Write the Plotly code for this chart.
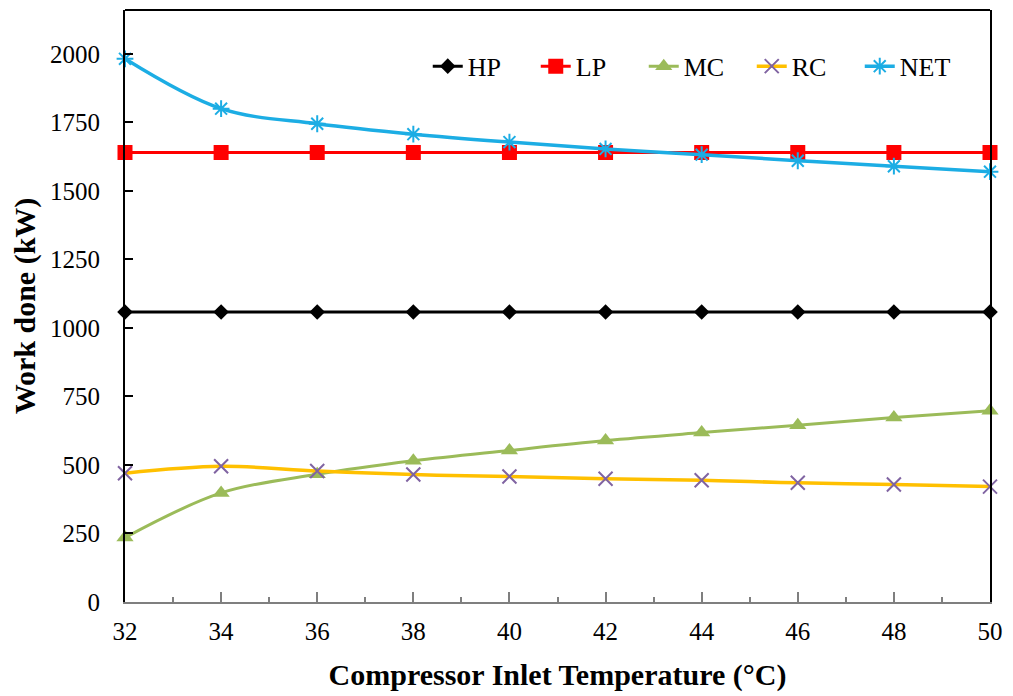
import plotly.graph_objects as go

temps = [32, 34, 36, 38, 40, 42, 44, 46, 48, 50]
hp = [1058, 1058, 1058, 1058, 1058, 1058, 1058, 1058, 1058, 1058]
lp = [1640, 1640, 1640, 1640, 1640, 1640, 1640, 1640, 1640, 1640]
mc = [235, 398, 466, 515, 553, 589, 618, 645, 673, 698]
rc = [470, 495, 478, 465, 458, 450, 444, 435, 429, 421]
net = [1982, 1800, 1745, 1707, 1678, 1653, 1632, 1610, 1590, 1570]

FONT = "Liberation Serif"

fig = go.Figure()
fig.add_trace(go.Scatter(x=temps, y=hp, name="HP", mode="lines+markers",
                         line=dict(color="black", width=3, shape="spline"),
                         marker=dict(symbol="diamond", size=12, color="black"),
                         cliponaxis=False))
fig.add_trace(go.Scatter(x=temps, y=lp, name="LP", mode="lines+markers",
                         line=dict(color="#FF0000", width=3, shape="spline"),
                         marker=dict(symbol="square", size=15, color="#FF0000"),
                         cliponaxis=False))
fig.add_trace(go.Scatter(x=temps, y=mc, name="MC", mode="lines+markers",
                         line=dict(color="#9BBB59", width=3, shape="spline"),
                         marker=dict(symbol="triangle-up", size=15, color="#9BBB59"),
                         cliponaxis=False))
fig.add_trace(go.Scatter(x=temps, y=rc, name="RC", mode="lines+markers",
                         line=dict(color="#FFC000", width=3.5, shape="spline"),
                         marker=dict(symbol="x-thin-open", size=14, color="#8064A2",
                                     line=dict(color="#8064A2", width=2)),
                         cliponaxis=False))
fig.add_trace(go.Scatter(x=temps, y=net, name="NET", mode="lines+markers",
                         line=dict(color="#1CADE4", width=3.5, shape="spline"),
                         marker=dict(symbol="asterisk-open", size=14, color="#1CADE4",
                                     line=dict(color="#1CADE4", width=2)),
                         cliponaxis=False))

fig.update_layout(
    width=1013, height=696,
    margin=dict(l=125, r=15, t=10, b=89),
    plot_bgcolor="white", paper_bgcolor="white",
    font=dict(family=FONT, size=25, color="black"),
    showlegend=True,
    legend=dict(orientation="h", x=0.35, y=0.905, xanchor="left", yanchor="middle",
                bgcolor="rgba(0,0,0,0)", font=dict(family=FONT, size=26),
                entrywidth=63, entrywidthmode="pixels", tracegroupgap=0),
    xaxis=dict(range=[32, 50], tickvals=temps, ticks="inside", ticklen=10,
               tickcolor="#7f7f7f", tickwidth=1.5,
               showline=True, linecolor="#7f7f7f", linewidth=2,
               showgrid=False, zeroline=False, ticklabelstandoff=6,
               minor=dict(dtick=1, tick0=32, ticks="inside", ticklen=5,
                          tickcolor="#7f7f7f", tickwidth=1.5, showgrid=False),
               title=dict(text="<b>Compressor Inlet Temperature (°C)</b>",
                          font=dict(family=FONT, size=30), standoff=20),
               tickfont=dict(family=FONT, size=25)),
    yaxis=dict(range=[0, 2160], tickvals=[0, 250, 500, 750, 1000, 1250, 1500, 1750, 2000],
               ticks="inside", ticklen=8, tickcolor="black", tickwidth=1.5,
               showline=True, linecolor="black", linewidth=2, mirror=True,
               showgrid=False, zeroline=False, ticklabelstandoff=18,
               title=dict(text="<b>Work done (kW)</b>",
                          font=dict(family=FONT, size=30), standoff=6),
               tickfont=dict(family=FONT, size=25)),
)
fig.add_shape(type="line", xref="paper", yref="paper", x0=0, x1=1, y0=1, y1=1,
              line=dict(color="black", width=2))

fig.write_html("out.html",
               post_script="document.body.style.margin='0';document.body.style.overflow='hidden';")
